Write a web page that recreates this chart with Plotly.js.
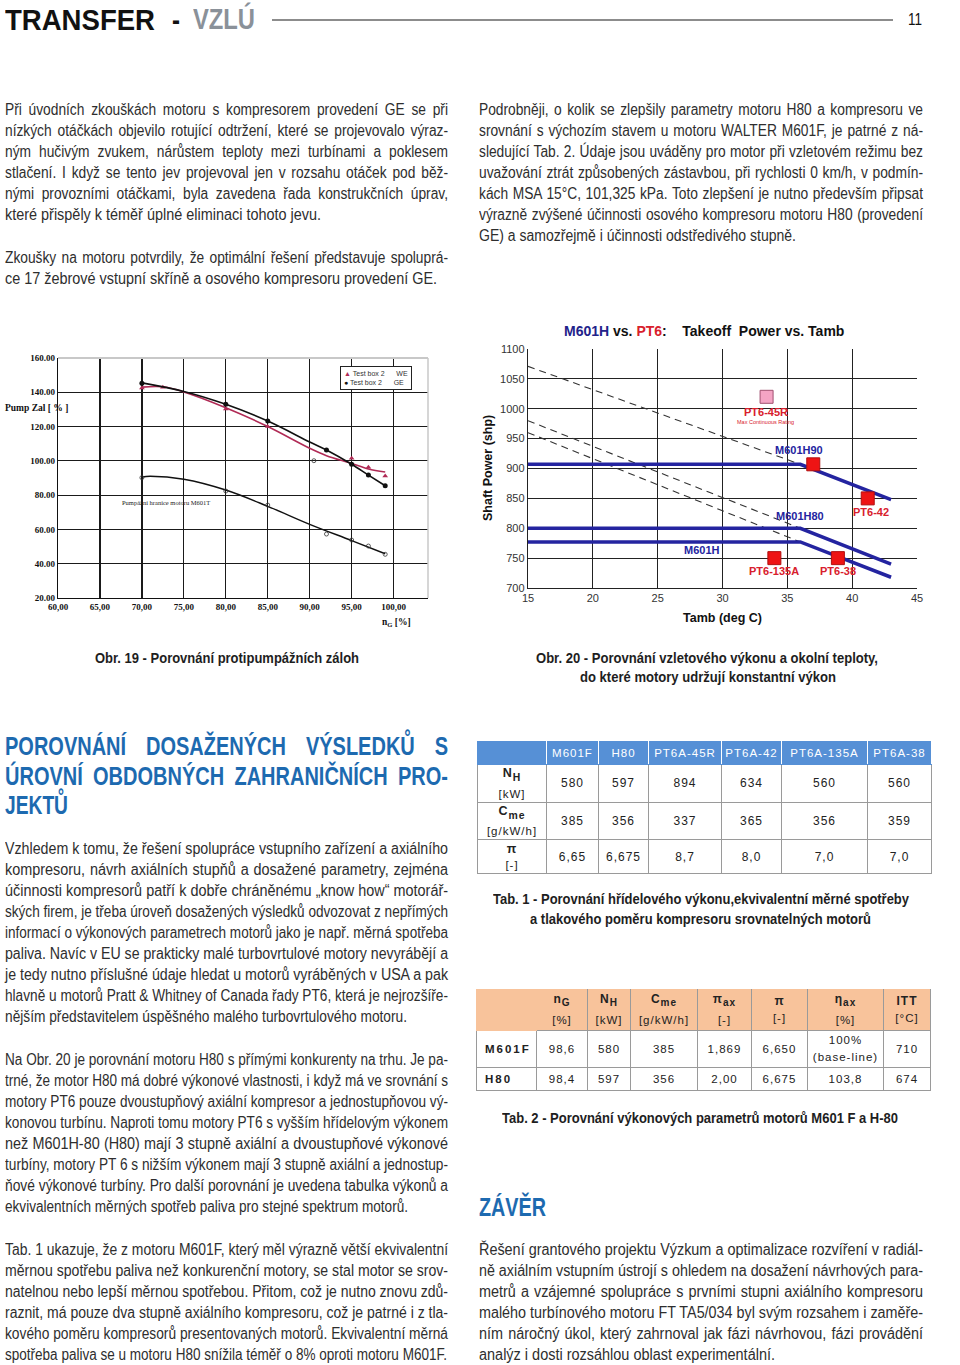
<!DOCTYPE html>
<html><head><meta charset="utf-8">
<script src="https://cdn.plot.ly/plotly-3.0.1.min.js"></script>
<style>
html,body{margin:0;padding:0;background:#fff;}
body{width:960px;height:1365px;position:relative;overflow:hidden;font-family:"Liberation Sans",Arial,sans-serif;color:#2b2b2b;}
.abs{position:absolute;}
.tl{position:absolute;white-space:nowrap;}
.tl span{display:inline-block;transform-origin:left center;white-space:nowrap;}
table{border-collapse:collapse;position:absolute;font-family:"Liberation Sans",Arial,sans-serif;font-size:11.5px;color:#222;letter-spacing:1px;table-layout:fixed;}
td{text-align:center;padding:0;border:1px solid #9a9a9a;white-space:nowrap;}
</style></head>
<body>
<div class="abs" style="left:272px;top:19px;width:621px;height:2px;background:#8c8c8c;"></div>
<div id="txt"></div>
<div id="chart1" class="abs" style="left:0;top:340px;width:440px;height:300px;"></div>
<div id="chart2" class="abs" style="left:470px;top:315px;width:490px;height:320px;"></div>
<table id="tab1" style="left:477px;top:741px;width:454px;"></table>
<table id="tab2" style="left:476px;top:989px;width:454px;"></table>

<script>
// ---------- Chart 1 data (Obr. 19) ----------
var weCurveX = [70, 72.5, 75, 80, 85, 90, 92, 95, 97, 99];
var weCurveY = [143, 143.2, 140.2, 131, 120, 107.3, 103, 98.5, 95.2, 93.5];
var wePtsX = [70, 72.5, 80, 85, 95, 97, 99];
var wePtsY = [142.5, 143, 130.2, 120, 101.5, 96.2, 91.2];
var geCurveX = [70, 75, 80, 85, 90, 92, 95, 97, 99];
var geCurveY = [145.5, 140.5, 133, 123.2, 111, 106.3, 98, 91.7, 85.5];
var gePtsX = [70, 80, 85, 92, 95, 97, 99];
var gePtsY = [145.2, 133, 123.2, 106.3, 98, 91.7, 85.5];
var m601tCurveX = [70, 71, 75, 80, 85, 90, 95, 99];
var m601tCurveY = [90.6, 91, 89.3, 83, 73.5, 63, 53.5, 45.8];
var m601tPtsX = [70, 80, 85, 90.5, 92, 95, 97, 99];
var m601tPtsY = [90.2, 82.4, 74.2, 100.1, 57.3, 53.8, 50.3, 45.5];
var c1XTicks = [60, 65, 70, 75, 80, 85, 90, 95, 100];
var c1XTickText = ["60,00", "65,00", "70,00", "75,00", "80,00", "85,00", "90,00", "95,00", "100,00"];

// ---------- Chart 2 data (Obr. 20) ----------
var tambKnee = [15, 36, 43];
var m601h90 = [907, 907, 848];
var m601h80 = [800, 800, 740];
var m601h = [777, 777, 718];
var dashX = [15, 36];
var dash1 = [1071, 907];
var dash2 = [980, 800];
var dash3 = [960, 777];
var pt6Names = ["", "PT6-42", "PT6-135A", "PT6-38"];
var pt6Tamb = [37, 41.2, 34, 38.9];
var pt6Power = [907, 850, 750, 750];
var pt645rTamb = [33.4];
var pt645rPower = [1020];

// ---------- Table data ----------
var t1Engines = ["M601F", "H80", "PT6A-45R", "PT6A-42", "PT6A-135A", "PT6A-38"];
var t1Rows = ["N<sub>H</sub>", "C<sub>me</sub>", "π"];
var t1Units = ["[kW]", "[g/kW/h]", "[-]"];
var t1Power = ["580", "597", "894", "634", "560", "560"];
var t1Cme = ["385", "356", "337", "365", "356", "359"];
var t1Pi = ["6,65", "6,675", "8,7", "8,0", "7,0", "7,0"];
var t2Params = ["n<sub>G</sub>", "N<sub>H</sub>", "C<sub>me</sub>", "π<sub>ax</sub>", "π", "η<sub>ax</sub>", "ITT"];
var t2Units = ["[%]", "[kW]", "[g/kW/h]", "[-]", "[-]", "[%]", "[°C]"];
var t2Engines = ["M601F", "H80"];
var t2M601F = ["98,6", "580", "385", "1,869", "6,650", "100%<br>(base-line)", "710"];
var t2H80 = ["98,4", "597", "356", "2,00", "6,675", "103,8", "674"];

// ---------- Text ----------
var paras = [
 {x:5, w:443, y:109, end:321, s0:0.86, lines:[
  "Při úvodních zkouškách motoru s kompresorem provedení GE se při",
  "nízkých otáčkách objevilo rotující odtržení, které se projevovalo výraz-",
  "ným hučivým zvukem, nárůstem teploty mezi turbínami a poklesem",
  "stlačení. I když se tento jev projevoval jen v rozsahu otáček pod běž-",
  "nými provozními otáčkami, byla zavedena řada konstrukčních úprav,",
  "které přispěly k téměř úplné eliminaci tohoto jevu."]},
 {x:5, w:443, y:257, end:437, s0:0.86, lines:[
  "Zkoušky na motoru potvrdily, že optimální řešení představuje spoluprá-",
  "ce 17 žebrové vstupní skříně a osového kompresoru provedení GE."]},
 {x:479, w:444, y:109, end:796, s0:0.86, lines:[
  "Podrobněji, o kolik se zlepšily parametry motoru H80 a kompresoru ve",
  "srovnání s výchozím stavem u motoru WALTER M601F, je patrné z ná-",
  "sledující Tab. 2. Údaje jsou uváděny pro motor při vzletovém režimu bez",
  "uvažování ztrát způsobených zástavbou, při rychlosti 0 km/h, v podmín-",
  "kách MSA 15°C, 101,325 kPa. Toto zlepšení je nutno především připsat",
  "výrazně zvýšené účinnosti osového kompresoru motoru H80 (provedení",
  "GE) a samozřejmě i účinnosti odstředivého stupně."]},
 {x:5, w:443, y:848, end:407, s0:0.9, lines:[
  "Vzhledem k tomu, že řešení spolupráce vstupního zařízení a axiálního",
  "kompresoru, návrh axiálních stupňů a dosažené parametry, zejména",
  "účinnosti kompresorů patří k dobře chráněnému „know how“ motorář-",
  "ských firem, je třeba úroveň dosažených výsledků odvozovat z nepřímých",
  "informací o výkonových parametrech motorů jako je např. měrná spotřeba",
  "paliva. Navíc v EU se prakticky malé turbovrtulové motory nevyrábějí a",
  "je tedy nutno příslušné údaje hledat u motorů vyráběných v USA a pak",
  "hlavně u motorů Pratt &amp; Whitney of Canada řady PT6, která je nejrozšíře-",
  "nějším představitelem úspěšného malého turbovrtulového motoru."]},
 {x:5, w:443, y:1059, end:408, s0:0.9, lines:[
  "Na Obr. 20 je porovnání motoru H80 s přímými konkurenty na trhu. Je pa-",
  "trné, že motor H80 má dobré výkonové vlastnosti, i když má ve srovnání s",
  "motory PT6 pouze dvoustupňový axiální kompresor a jednostupňovou vý-",
  "konovou turbínu. Naproti tomu motory PT6 s vyšším hřídelovým výkonem",
  "než M601H-80 (H80) mají 3 stupně axiální a dvoustupňové výkonové",
  "turbíny, motory PT 6 s nižším výkonem mají 3 stupně axiální a jednostup-",
  "ňové výkonové turbíny. Pro další porovnání je uvedena tabulka výkonů a",
  "ekvivalentních měrných spotřeb paliva pro stejné spektrum motorů."]},
 {x:5, w:443, y:1249, end:447, s0:0.9, lines:[
  "Tab. 1 ukazuje, že z motoru M601F, který měl výrazně větší ekvivalentní",
  "měrnou spotřebu paliva než konkurenční motory, se stal motor se srov-",
  "natelnou nebo lepší měrnou spotřebou. Přitom, což je nutno znovu zdů-",
  "raznit, má pouze dva stupně axiálního kompresoru, což je patrné i z tla-",
  "kového poměru kompresorů presentovaných motorů. Ekvivalentní měrná",
  "spotřeba paliva se u motoru H80 snížila téměř o 8% oproti motoru M601F."]},
 {x:479, w:444, y:1249, end:775, s0:0.9, lines:[
  "Řešení grantového projektu Výzkum a optimalizace rozvíření v radiál-",
  "ně axiálním vstupním ústrojí s ohledem na dosažení návrhových para-",
  "metrů a vzájemné spolupráce s prvními stupni axiálního kompresoru",
  "malého turbínového motoru FT TA5/034 byl svým rozsahem i zaměře-",
  "ním náročný úkol, který zahrnoval jak fázi návrhovou, fázi provádění",
  "analýz i dosti rozsáhlou oblast experimentální."]}
];
var heads = [
 {x:5, w:443, y:746, lh:29.5, end:68, lines:["POROVNÁNÍ DOSAŽENÝCH VÝSLEDKŮ S", "ÚROVNÍ OBDOBNÝCH ZAHRANIČNÍCH PRO-", "JEKTŮ"]},
 {x:479, w:200, y:1207, lh:30, end:546, lines:["ZÁVĚR"]}
];
// captions: [text, left, right, centerY]
var caps = [
 ["Obr. 19 - Porovnání protipumpážních záloh", 95, 359, 657],
 ["Obr. 20 - Porovnání vzletového výkonu a okolní teploty,", 536, 878, 657],
 ["do které motory udržují konstantní výkon", 580, 836, 676],
 ["Tab. 1 - Porovnání hřídelového výkonu,ekvivalentní měrné spotřeby", 493, 909, 898],
 ["a tlakového poměru kompresoru srovnatelných motorů", 530, 871, 918],
 ["Tab. 2 - Porovnání výkonových parametrů motorů M601 F a H-80", 502, 898, 1117]
];

var txt = document.getElementById('txt');
function placeLine(html, x, yc, w, o) {
  var lh = o.lh || 21;
  var d = document.createElement('div');
  d.className = 'tl';
  d.style.left = x + 'px'; d.style.top = (yc - lh/2) + 'px';
  d.style.height = lh + 'px'; d.style.lineHeight = lh + 'px';
  d.style.fontSize = o.size + 'px';
  if (o.bold) d.style.fontWeight = 'bold';
  if (o.color) d.style.color = o.color;
  var s = document.createElement('span');
  s.innerHTML = html;
  d.appendChild(s); txt.appendChild(d);
  var W = s.getBoundingClientRect().width;
  var nSp = (s.textContent.match(/ /g) || []).length;
  var sc = w / W, ws = 0;
  if (o.justify) {
    sc = o.s0;
    if (W * sc > w || nSp === 0) sc = w / W;
    else ws = (w / sc - W) / nSp;
  }
  s.style.wordSpacing = ws + 'px';
  s.style.transform = 'scaleX(' + sc + ')';
}
paras.forEach(function(p){
  p.lines.forEach(function(l,i){
    var last = (i === p.lines.length-1);
    placeLine(l, p.x, p.y + 21*i, last ? (p.end - p.x) : p.w, {size:16, justify:!last, s0:p.s0, color:'#2e2e2e'});
  });
});
heads.forEach(function(h){
  h.lines.forEach(function(l,i){
    var last = (i === h.lines.length-1);
    placeLine(l, h.x, h.y + h.lh*i, last ? (h.end - h.x) : h.w, {size:25, lh:30, bold:true, justify:!last, s0:0.8, color:'#1d6ab0'});
  });
});
caps.forEach(function(c){
  placeLine(c[0], c[1], c[3], c[2]-c[1], {size:15, lh:19, bold:true, color:'#1e1e1e'});
});
placeLine('TRANSFER', 5, 20, 150, {size:30, lh:34, bold:true, color:'#111'});
placeLine('-', 172, 20, 8, {size:30, lh:34, bold:true, color:'#111'});
placeLine('VZLÚ', 193, 19, 62, {size:30, lh:34, bold:true, color:'#8a9199'});
placeLine('11', 908, 20, 14, {size:16, lh:20, color:'#111'});

// ---------- Tables ----------
(function(){
  var t = document.getElementById('tab1');
  var w1 = [69, 52, 50, 73, 60, 86, 64];
  var h = '<colgroup>' + w1.map(function(w){return '<col style="width:'+w+'px">';}).join('') + '</colgroup>';
  h += '<tr style="height:23px;background:#5690d6;color:#fff;"><td style="border-color:#5690d6;border-right-color:#fff"></td>' +
       t1Engines.map(function(e){return '<td style="border-color:#5690d6;border-left-color:#fff;border-right-color:#fff">'+e+'</td>';}).join('') + '</tr>';
  var vals = [t1Power, t1Cme, t1Pi];
  var hs = [36, 36, 34];
  vals.forEach(function(v,r){
    h += '<tr style="height:'+hs[r]+'px"><td style="line-height:16px"><b style="font-size:12.5px">'+t1Rows[r]+'</b><br>'+t1Units[r]+'</td>' +
         v.map(function(x){return '<td style="font-size:12px">'+x+'</td>';}).join('') + '</tr>';
  });
  t.innerHTML = h;

  var t2 = document.getElementById('tab2');
  var w2 = [60, 51, 43, 67, 54, 56, 76, 47];
  var g = '<colgroup>' + w2.map(function(w){return '<col style="width:'+w+'px">';}).join('') + '</colgroup>';
  g += '<tr style="height:41px;background:#f8c39b;"><td style="border-color:#f8c39b"></td>' +
       t2Params.map(function(p,i){return '<td style="line-height:17px;border-top-color:#f8c39b;border-bottom-color:#9a9a9a"><b style="font-size:12px">'+p+'</b><br>'+t2Units[i]+'</td>';}).join('') + '</tr>';
  var rows = [t2M601F, t2H80];
  var rh = [37, 23];
  rows.forEach(function(v,r){
    g += '<tr style="height:'+rh[r]+'px"><td style="text-align:left;padding-left:8px;font-weight:bold;letter-spacing:2px">'+t2Engines[r]+'</td>' +
         v.map(function(x){return '<td style="line-height:17px">'+x+'</td>';}).join('') + '</tr>';
  });
  t2.innerHTML = g;
})();

// ---------- Chart 1 ----------
var serif = "Liberation Serif, Times New Roman, serif";
var red1 = '#b02a55';
var c1traces = [
  {x: weCurveX, y: weCurveY, mode:'lines', line:{shape:'spline', color:red1, width:1.6}},
  {x: wePtsX, y: wePtsY, mode:'markers', marker:{symbol:'triangle-up', size:5, color:red1}},
  {x: geCurveX, y: geCurveY, mode:'lines', line:{shape:'spline', color:'#111', width:1.6}},
  {x: gePtsX, y: gePtsY, mode:'markers', marker:{symbol:'circle', size:5, color:'#111'}},
  {x: m601tCurveX, y: m601tCurveY, mode:'lines', line:{shape:'spline', color:'#111', width:1.4}},
  {x: m601tPtsX, y: m601tPtsY, mode:'markers', marker:{symbol:'circle-open', size:4, color:'#333', line:{width:0.8}}}
];
var c1layout = {
  width:440, height:300, margin:{l:58, r:12, t:18, b:42},
  paper_bgcolor:'rgba(0,0,0,0)', plot_bgcolor:'#fff', showlegend:false,
  xaxis:{range:[60,104.1], tickvals:c1XTicks, ticktext:c1XTickText, showgrid:true, gridcolor:'#1a1a1a', gridwidth:1.2,
    showline:true, linecolor:'#111', linewidth:1.2, zeroline:false, ticks:'',
    tickfont:{family:serif, size:9, color:'#111', weight:'bold'}},
  yaxis:{range:[20,160], dtick:20, tick0:20, tickformat:'.2f', showgrid:true, gridcolor:'#1a1a1a', gridwidth:1.2,
    showline:true, linecolor:'#111', linewidth:1.2, zeroline:false, ticks:'',
    tickfont:{family:serif, size:9, color:'#111', weight:'bold'}},
  shapes:[
    {type:'line', xref:'paper', yref:'paper', x0:0, x1:1, y0:1, y1:1, line:{color:'#c8c8c8', width:2}},
    {type:'line', xref:'paper', yref:'paper', x0:1, x1:1, y0:0, y1:1, line:{color:'#c8c8c8', width:1.5}}
  ],
  annotations:[
    {xref:'paper', yref:'paper', x:-0.148, y:0.79, xanchor:'left', yanchor:'middle', showarrow:false,
     text:'Pump Zal [ % ]', font:{family:serif, size:9.5, color:'#111', weight:'bold'}},
    {xref:'paper', yref:'paper', x:0.915, y:-0.1, xanchor:'center', yanchor:'middle', showarrow:false,
     text:'n<sub>G</sub> [%]', font:{family:serif, size:9.5, color:'#111', weight:'bold'}},
    {xref:'x', yref:'y', x:72.9, y:75.5, xanchor:'center', yanchor:'middle', showarrow:false,
     text:'Pumpážní hranice motoru M601T', font:{family:serif, size:6.5, color:'#222'}},
    {xref:'paper', yref:'paper', x:0.762, y:0.965, xanchor:'left', yanchor:'top', showarrow:false, align:'left',
     bordercolor:'#222', borderwidth:1, borderpad:3, bgcolor:'#fff',
     text:'<span style="color:'+red1+'">▲</span> Test box 2\u00a0\u00a0\u00a0\u00a0\u00a0\u00a0WE<br><span style="color:#111">●</span> Test box 2\u00a0\u00a0\u00a0\u00a0\u00a0\u00a0GE',
     font:{family:"Liberation Sans, Arial, sans-serif", size:7, color:'#333'}}
  ]
};
Plotly.newPlot('chart1', c1traces, c1layout, {staticPlot:true, displayModeBar:false});

// ---------- Chart 2 ----------
var blue = '#2424a0', redc = '#d8202c';
var sans = "Liberation Sans, Arial, sans-serif";
var dashLine = {color:'#333', width:1.1, dash:'7px,5px'};
var c2traces = [
  {x: dashX, y: dash1, mode:'lines', line:dashLine},
  {x: dashX, y: dash2, mode:'lines', line:dashLine},
  {x: dashX, y: dash3, mode:'lines', line:dashLine},
  {x: tambKnee, y: m601h90, mode:'lines', line:{color:blue, width:3.5}},
  {x: tambKnee, y: m601h80, mode:'lines', line:{color:blue, width:3.5}},
  {x: tambKnee, y: m601h, mode:'lines', line:{color:blue, width:3.5}},
  {x: pt6Tamb, y: pt6Power, mode:'markers', marker:{symbol:'square', size:13, color:'#ee1414', line:{color:'#b01010', width:1}}},
  {x: pt645rTamb, y: pt645rPower, mode:'markers', marker:{symbol:'square', size:13, color:'#f4a4c4', line:{color:'#a05070', width:1}}}
];
var c2ann = [
  {xref:'paper', yref:'paper', x:0.5, y:-0.125, xanchor:'center', yanchor:'middle', showarrow:false,
   text:'Tamb (deg C)', font:{family:sans, size:12.5, color:'#111', weight:'bold'}},
  {xref:'paper', yref:'paper', x:-0.104, y:0.5, xanchor:'center', yanchor:'middle', showarrow:false, textangle:-90,
   text:'Shaft Power (shp)', font:{family:sans, size:12.5, color:'#111', weight:'bold'}},
  {x: pt645rTamb[0], y: pt645rPower[0], yshift:-15, xshift:-1, showarrow:false, text:'PT6-45R',
   font:{family:sans, size:11, color:redc, weight:'bold'}},
  {x: pt645rTamb[0], y: pt645rPower[0], yshift:-25, xshift:-1, showarrow:false, text:'Max Continuous Rating',
   font:{family:sans, size:5.5, color:redc}},
  {x: tambKnee[1], y: m601h90[1], yshift:14, xshift:-1, showarrow:false, text:'M601H90', font:{family:sans, size:11, color:blue, weight:'bold'}},
  {x: tambKnee[1], y: m601h80[1], yshift:12, xshift:0, showarrow:false, text:'M601H80', font:{family:sans, size:11, color:blue, weight:'bold'}},
  {x: 28.4, y: m601h[1], yshift:-8, showarrow:false, text:'M601H', font:{family:sans, size:11, color:blue, weight:'bold'}}
];
for (var i = 1; i < pt6Names.length; i++) {
  c2ann.push({x: pt6Tamb[i], y: pt6Power[i], yshift:(i===1?-14:-13), xshift:(i===1?3:0), showarrow:false, text:pt6Names[i],
    font:{family:sans, size:11, color:redc, weight:'bold'}});
}
var c2layout = {
  width:490, height:320, margin:{l:58, r:43, t:34, b:47},
  paper_bgcolor:'rgba(0,0,0,0)', plot_bgcolor:'#fff', showlegend:false,
  title:{text:'<span style="color:#22228a">M601H</span> vs. <span style="color:#d8202c">PT6</span>:\u00a0\u00a0\u00a0 Takeoff\u00a0 Power vs. Tamb',
    x:0.478, xanchor:'center', y:0.95, yanchor:'middle', font:{family:sans, size:14, color:'#111', weight:'bold'}},
  xaxis:{range:[15,45], dtick:5, tick0:15, showgrid:true, gridcolor:'#222', gridwidth:1.2, showline:true, linecolor:'#222', linewidth:1.2,
    zeroline:false, ticks:'', tickfont:{family:sans, size:11, color:'#333'}},
  yaxis:{range:[700,1100], dtick:50, tick0:700, showgrid:true, gridcolor:'#222', gridwidth:1.2, showline:true, linecolor:'#222', linewidth:1.2,
    zeroline:false, ticks:'', tickfont:{family:sans, size:11, color:'#333'}},
  annotations:c2ann
};
Plotly.newPlot('chart2', c2traces, c2layout, {staticPlot:true, displayModeBar:false});
</script>
</body></html>
